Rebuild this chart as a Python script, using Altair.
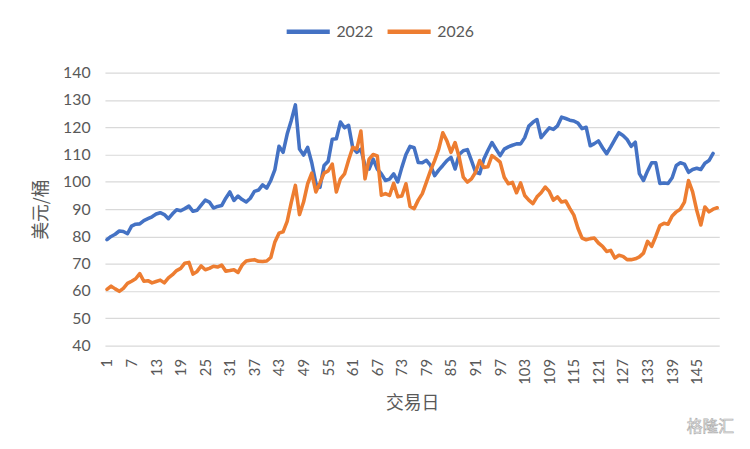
import altair as alt
import pandas as pd

series_names = ["2022", "2026"]
series_colors = ["#4472C4", "#ED7D31"]

oil_2022 = [
    78.8, 80.0, 80.8, 82.0, 81.8, 81.0, 83.8, 84.5, 84.6, 85.8,
    86.5, 87.2, 88.2, 88.7, 88.0, 86.5, 88.3, 89.8, 89.4, 90.2,
    91.1, 89.2, 89.6, 91.5, 93.3, 92.6, 90.4, 91.0, 91.3, 94.0,
    96.3, 93.2, 94.8, 93.5, 92.6, 94.0, 96.5, 97.0, 98.9, 97.7,
    100.5, 104.5, 113.0, 110.8, 117.5, 122.5, 128.2, 112.0, 109.8, 112.6,
    107.0, 99.5, 98.0, 106.0, 107.5, 115.6, 115.8, 121.9, 119.8, 120.7,
    112.5, 110.8, 112.0, 106.0, 104.7, 108.3, 104.7, 102.9, 100.5, 101.0,
    102.9, 100.0, 105.3, 110.0, 113.0, 112.5, 107.1, 107.0, 107.9, 106.0,
    102.3, 104.3, 106.0, 107.8, 109.0, 104.7, 110.0, 111.4, 111.8, 107.8,
    103.5, 103.0, 108.3, 111.5, 114.4, 112.0, 109.6, 112.0, 112.8, 113.4,
    113.9, 113.9, 116.2, 120.4, 121.8, 122.8, 116.2, 118.0, 119.8, 119.2,
    120.5, 123.7, 123.2, 122.6, 122.3, 121.5, 119.5, 120.0, 113.2, 114.0,
    115.0, 112.5, 110.3, 112.8, 115.5, 118.0, 117.0, 115.5, 113.0, 114.5,
    103.0, 100.5, 104.0, 107.0, 107.0, 99.4, 99.6, 99.4, 101.5, 106.0,
    107.0, 106.5, 103.5, 104.5, 105.0, 104.5, 106.8, 107.8, 110.4,
]

oil_2026 = [
    60.6, 61.8, 60.8, 59.9, 61.0, 62.8, 63.6, 64.5, 66.4, 63.6,
    63.8, 63.0, 63.5, 64.0, 63.0, 64.8, 66.0, 67.5, 68.3, 70.2,
    70.5, 66.2, 67.2, 69.2, 67.8, 68.3, 69.1, 68.8, 69.5, 67.3,
    67.5, 67.8, 66.8, 69.5, 71.0, 71.3, 71.5, 70.9, 70.8, 71.0,
    72.3, 78.0, 81.2, 81.7, 85.5, 92.5, 98.7, 88.0, 92.6, 99.3,
    103.2, 96.3, 99.6, 103.2, 104.0, 106.5, 96.3, 101.1, 102.9, 108.0,
    112.6, 112.0, 118.6, 101.1, 108.3, 110.0, 109.5, 95.1, 95.7, 95.0,
    99.5, 94.5, 94.8, 99.3, 91.0, 90.2, 93.3, 95.7, 99.9, 104.1,
    107.8, 112.0, 118.0, 115.0, 110.8, 114.4, 109.0, 101.7, 99.9, 101.1,
    103.5, 107.8, 105.3, 105.5, 109.6, 108.5, 107.2, 101.7, 99.3, 99.8,
    96.0, 99.6, 95.0, 93.3, 92.0, 94.5, 96.0, 98.1, 96.5, 93.3,
    94.5, 92.6, 93.0, 90.3, 87.8, 83.0, 79.4, 78.8, 79.2, 79.4,
    77.6, 76.4, 74.5, 74.9, 72.1, 73.1, 72.7, 71.5, 71.5, 71.8,
    72.5, 73.9, 78.2, 76.4, 80.0, 84.0, 84.8, 84.5, 87.5, 89.0,
    90.0, 92.6, 100.5, 96.3, 89.6, 84.2, 90.8, 89.0, 90.0, 90.5,
]

x_ticks = list(range(1, 146, 6))
y_ticks = list(range(40, 141, 10))
watermark = ["格隆汇"]

rows = []
for name, vals in zip(series_names, [oil_2022, oil_2026]):
    for i, v in enumerate(vals):
        rows.append({"day": i + 1, "price": v, "series": name})
df = pd.DataFrame(rows)

label_font = "Lato"
cjk_font = "Noto Sans CJK SC"
gray = "#595959"

lines = alt.Chart(df).mark_line(
    strokeWidth=3.6, strokeCap="round", strokeJoin="round"
).encode(
    x=alt.X(
        "day:Q",
        scale=alt.Scale(domain=[0.5, 150.5], nice=False, zero=False),
        axis=alt.Axis(
            values=x_ticks, labelAngle=270, title="交易日", grid=False,
            ticks=False, domain=False, labelFont=label_font, labelFontSize=15,
            labelColor=gray, labelPadding=13, titleFont=cjk_font,
            titleFontSize=18, titleFontWeight="normal", titleColor=gray,
            titlePadding=10, labelFlush=False, labelOverlap=False,
        ),
    ),
    y=alt.Y(
        "price:Q",
        scale=alt.Scale(domain=[40, 140], nice=False, zero=False),
        axis=alt.Axis(
            values=y_ticks, title="美元/桶", grid=True, gridColor="#D9D9D9",
            gridWidth=1.2, ticks=False, domain=False, labelFont=label_font,
            labelFontSize=16, labelColor=gray, labelPadding=15,
            titleFont=cjk_font, titleFontSize=18, titleFontWeight="normal",
            titleColor=gray, titlePadding=12,
        ),
    ),
    color=alt.Color(
        "series:N",
        scale=alt.Scale(domain=series_names, range=series_colors),
        legend=alt.Legend(
            title=None, orient="none", legendX=181, legendY=-66,
            direction="horizontal", symbolType="stroke", symbolSize=1900,
            symbolStrokeWidth=4.5, labelFont=label_font, labelFontSize=16,
            labelColor=gray, labelOffset=4, columnPadding=4,
        ),
    ),
)

wm = alt.Chart(pd.DataFrame({"t": watermark})).mark_text(
    font=cjk_font, fontSize=16, fill="white", stroke="#B0B0B0",
    strokeWidth=0.7, align="center", baseline="middle",
).encode(text="t:N", x=alt.value(612), y=alt.value(358))

chart = alt.layer(lines, wm).properties(
    width=621, height=276,
    autosize=alt.AutoSizeParams(type="none"),
    padding={"left": 98, "top": 63, "right": 23, "bottom": 90},
).configure_view(stroke=None)

chart.save("out.html", embed_options={"renderer": "svg", "actions": False})
